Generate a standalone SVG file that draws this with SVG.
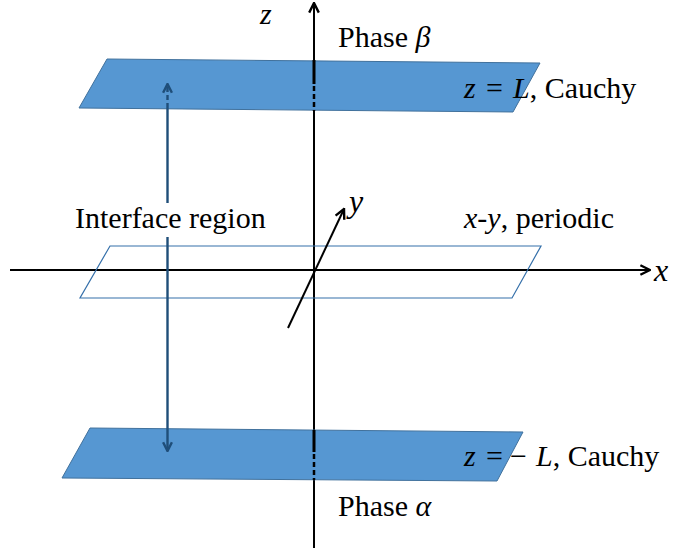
<svg xmlns="http://www.w3.org/2000/svg" width="673" height="550" viewBox="0 0 673 550">
<style>
.t{font-family:"Liberation Serif","Times New Roman",serif;font-size:30px;fill:#000}
.m{font-style:italic}
.big{font-size:32px}
.zl{font-size:30px}
.ax{stroke:#000;stroke-width:2;fill:none}
.ia{stroke:#1F4E79;stroke-width:2.4;fill:none}
.plane{fill:#5697D2;stroke:#41719C;stroke-width:1}
.dz{stroke:#000;stroke-width:2.5;stroke-dasharray:5,3}
</style>
<defs>
<marker id="ahK" viewBox="0 0 10 10" refX="9" refY="5" markerWidth="12" markerHeight="12" markerUnits="userSpaceOnUse" orient="auto">
<path d="M1,1 L9,5 L1,9" fill="none" stroke="#000" stroke-width="2"/>
</marker>
<marker id="ahB" viewBox="0 0 10 10" refX="9" refY="5" markerWidth="11" markerHeight="11" markerUnits="userSpaceOnUse" orient="auto">
<path d="M1,1 L9,5 L1,9" fill="none" stroke="#1F4E79" stroke-width="2.2"/>
</marker>
</defs>
<g id="axes">
<line class="ax" x1="314" y1="548" x2="314" y2="3" marker-end="url(#ahK)"/>
<line class="ax" x1="10" y1="270" x2="650" y2="270" marker-end="url(#ahK)"/>
</g>
<g id="plane-middle">
<polygon points="110,246 541,246 512,298 80,298" fill="none" stroke="#3570AA" stroke-width="1.2"/>
</g>
<g id="plane-top">
<polygon class="plane" points="107,59 540,63 513,112 79,108"/>
<line x1="314" y1="60" x2="314" y2="84" stroke="#000" stroke-width="3"/>
<line class="dz" x1="314" y1="86" x2="314" y2="111"/>
</g>
<g id="plane-bottom">
<polygon class="plane" points="90,428 523,432 497,481 62,478"/>
<line x1="314" y1="430" x2="314" y2="452" stroke="#000" stroke-width="3"/>
<line class="dz" x1="314" y1="454" x2="314" y2="480"/>
</g>
<g id="connectors">
<line class="ax" x1="288" y1="328" x2="344" y2="209" marker-end="url(#ahK)"/>
<line class="ia" x1="167.5" y1="203" x2="167.5" y2="108"/>
<line class="ia" x1="167.5" y1="108" x2="167.5" y2="84" stroke-dasharray="5,3" marker-end="url(#ahB)"/>
<line class="ia" x1="167.5" y1="237" x2="167.5" y2="451" marker-end="url(#ahB)"/>
</g>
<g id="labels">
<text class="t m zl" x="260" y="24">z</text>
<text class="t m big" x="654" y="281">x</text>
<text class="t m big" x="349" y="212">y</text>
<text class="t" x="338" y="47">Phase <tspan class="m">β</tspan></text>
<text class="t" x="75" y="228">Interface region</text>
<text class="t" x="464" y="228"><tspan class="m">x</tspan>-<tspan class="m">y</tspan>, periodic</text>
<text class="t" x="464" y="98"><tspan class="m">z</tspan><tspan x="486">=</tspan><tspan class="m" x="513">L</tspan>, Cauchy</text>
<text class="t" x="464" y="466"><tspan class="m">z</tspan><tspan x="486">=</tspan><tspan x="510">−</tspan><tspan class="m" x="536">L</tspan>, Cauchy</text>
<text class="t" x="338" y="516">Phase <tspan class="m">α</tspan></text>
</g>
</svg>
